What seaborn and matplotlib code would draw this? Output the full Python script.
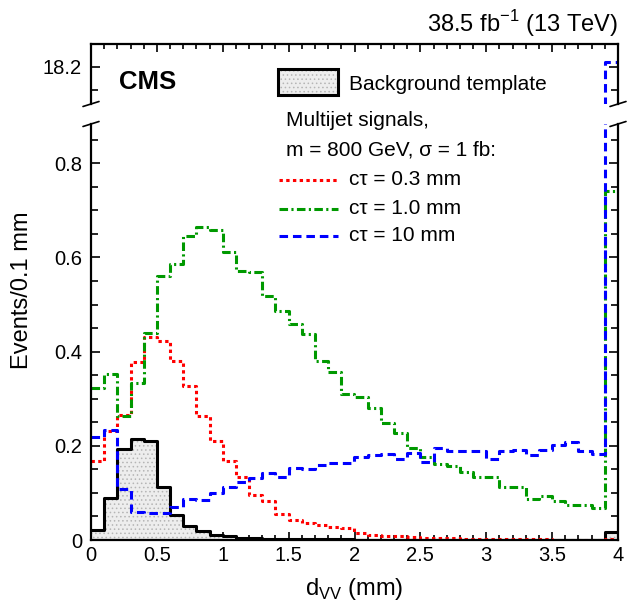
import numpy as np
import pandas as pd
import matplotlib
matplotlib.use("Agg")
import matplotlib.pyplot as plt
import matplotlib.ticker as ticker
from matplotlib.lines import Line2D
from matplotlib.patches import Rectangle
import seaborn as sns

# bin edges in d_VV (mm), 0.1 mm bins
edges = np.round(np.arange(0, 4.01, 0.1), 2)
centers = 0.5 * (edges[:-1] + edges[1:])

background = [0.021, 0.090, 0.193, 0.215, 0.210, 0.113, 0.053, 0.030, 0.019, 0.011,
              0.008, 0.005, 0.004, 0.003, 0.002, 0.002, 0.002, 0.002, 0.002, 0.002,
              0.001, 0.001, 0.001, 0.001, 0.001, 0.001, 0.001, 0.001, 0.001, 0.001,
              0.001, 0.001, 0.001, 0.001, 0.001, 0.001, 0.001, 0.001, 0.001, 0.018]
ctau_03 = [0.168, 0.231, 0.265, 0.377, 0.432, 0.422, 0.379, 0.326, 0.264, 0.210,
           0.168, 0.134, 0.096, 0.083, 0.056, 0.042, 0.037, 0.032, 0.027, 0.025,
           0.015, 0.011, 0.009, 0.008, 0.006, 0.005, 0.005, 0.004, 0.003, 0.003,
           0.003, 0.002, 0.002, 0.002, 0.002, 0.001, 0.001, 0.001, 0.001, 0.003]
ctau_10 = [0.322, 0.352, 0.263, 0.333, 0.439, 0.561, 0.587, 0.645, 0.665, 0.658,
           0.612, 0.571, 0.570, 0.519, 0.487, 0.458, 0.437, 0.379, 0.357, 0.311,
           0.304, 0.281, 0.249, 0.228, 0.196, 0.177, 0.161, 0.157, 0.145, 0.133,
           0.134, 0.113, 0.113, 0.087, 0.094, 0.083, 0.074, 0.074, 0.069, 0.741]
ctau_100 = [0.219, 0.234, 0.108, 0.060, 0.057, 0.057, 0.071, 0.086, 0.085, 0.100,
            0.113, 0.124, 0.131, 0.142, 0.134, 0.152, 0.151, 0.159, 0.164, 0.164,
            0.177, 0.180, 0.183, 0.173, 0.185, 0.166, 0.195, 0.188, 0.188, 0.190,
            0.173, 0.190, 0.191, 0.180, 0.191, 0.202, 0.209, 0.190, 0.183, 18.21]

signals = [
    ("c\u03c4 = 0.3 mm", ctau_03, "#ff0000", (0, (1.1, 1.1))),
    ("c\u03c4 = 1.0 mm", ctau_10, "#009900", (0, (2.8, 1.1, 0.7, 1.1))),
    ("c\u03c4 = 10 mm", ctau_100, "#0000ff", (0, (2.8, 1.6))),
]

sns.set_style("ticks")
plt.rcParams["font.family"] = ["Liberation Sans", "DejaVu Sans"]
plt.rcParams["hatch.linewidth"] = 0.6
for key in ("text.color", "axes.labelcolor", "axes.edgecolor", "xtick.color", "ytick.color"):
    plt.rcParams[key] = "black"

W, H = 631, 602
def fx(px):
    return px / W
def fy(py):
    return 1 - py / H

fig = plt.figure(figsize=(W / 100, H / 100), dpi=100)
ax_lo = fig.add_axes([fx(91), fy(540), fx(618) - fx(91), fy(124) - fy(540)])
ax_hi = fig.add_axes([fx(91), fy(104), fx(618) - fx(91), fy(44) - fy(104)], sharex=ax_lo)

LW = 2.2
bkg_df = pd.DataFrame({"dvv": centers, "w": background})
for ax in (ax_lo, ax_hi):
    sns.histplot(data=bkg_df, x="dvv", weights="w", bins=list(edges), element="step",
                 fill=True, color="#ededed", alpha=1, hatch="....", edgecolor="#b5b5b5",
                 linewidth=0, ax=ax)
    sns.histplot(data=bkg_df, x="dvv", weights="w", bins=list(edges), element="step",
                 fill=False, color="black", linewidth=LW, ax=ax)
    for label, vals, col, ls in signals:
        sig_df = pd.DataFrame({"dvv": centers, "w": vals})
        sns.histplot(data=sig_df, x="dvv", weights="w", bins=list(edges), element="step",
                     fill=False, color=col, linewidth=LW, linestyle=ls, ax=ax)
    ax.set_xlabel("")
    ax.set_ylabel("")
    ax.set_xlim(0, 4)
    for sp in ax.spines.values():
        sp.set_linewidth(1.6)
        sp.set_color("black")
        sp.set_visible(True)

ax_lo.set_ylim(0, 416 / 471)
ax_hi.set_ylim(18.2 - 37.3 / 471, 18.2 + 22.7 / 471)
ax_lo.spines["top"].set_visible(False)
ax_hi.spines["bottom"].set_visible(False)

ax_lo.xaxis.set_major_locator(ticker.MultipleLocator(0.5))
ax_lo.xaxis.set_minor_locator(ticker.MultipleLocator(0.1))
ax_lo.xaxis.set_major_formatter(ticker.FormatStrFormatter("%g"))
ax_lo.yaxis.set_major_locator(ticker.MultipleLocator(0.2))
ax_lo.yaxis.set_minor_locator(ticker.MultipleLocator(0.05))
ax_lo.yaxis.set_major_formatter(ticker.FormatStrFormatter("%g"))
ax_hi.set_yticks([18.2], labels=["18.2"])
ax_hi.yaxis.set_minor_locator(ticker.MultipleLocator(0.05))

ax_lo.tick_params(axis="both", which="both", direction="in", top=False, right=True,
                  labelsize=14.5, width=1.2, colors="black")
ax_lo.tick_params(axis="y", which="major", length=6.5, pad=6.5)
ax_lo.tick_params(axis="y", which="minor", length=5)
ax_lo.tick_params(axis="x", which="major", length=6, pad=4.5)
ax_lo.tick_params(axis="x", which="minor", length=3.5)
ax_hi.tick_params(axis="both", which="both", direction="in", top=True, bottom=False,
                  labelbottom=False, right=True, labelsize=14.5, width=1.2, colors="black")
ax_hi.tick_params(axis="y", which="major", length=6.5, pad=6.5)
ax_hi.tick_params(axis="y", which="minor", length=5)
ax_hi.tick_params(axis="x", which="major", length=6)
ax_hi.tick_params(axis="x", which="minor", length=3.5)

# axis break marks
for xpx in (91, 618):
    for ypx in (104, 124):
        fig.add_artist(Line2D([fx(xpx - 8), fx(xpx + 8)], [fy(ypx + 2.5), fy(ypx - 2.5)],
                              color="black", linewidth=1.2, transform=fig.transFigure))

# texts
fig.text(fx(618), fy(32), "38.5 fb$^\\mathregular{-1}$ (13 TeV)", ha="right", va="baseline",
         fontsize=17)
fig.text(fx(119), fy(89), "CMS", ha="left", va="baseline", fontsize=18.5, fontweight="bold")
fig.text(fx(22.5), fy(290), "Events/0.1 mm", rotation=90, ha="center", va="center",
         fontsize=17)
fig.text(fx(354.5), fy(595), "d$_\\mathregular{VV}$ (mm)", ha="center", va="baseline",
         fontsize=17)

# legend
fig.add_artist(Rectangle((fx(278), fy(95)), fx(338) - fx(278), fy(69) - fy(95),
                         facecolor="#ededed", hatch="....", edgecolor="#b5b5b5",
                         linewidth=0, transform=fig.transFigure))
fig.add_artist(Rectangle((fx(278), fy(95)), fx(338) - fx(278), fy(69) - fy(95),
                         facecolor="none", edgecolor="black", linewidth=LW,
                         transform=fig.transFigure))
fig.text(fx(349), fy(90), "Background template", va="baseline", fontsize=15)
fig.text(fx(286.5), fy(126.5), "Multijet signals,", va="baseline", fontsize=15)
fig.text(fx(286.5), fy(155.5), "m = 800 GeV, \u03c3 = 1 fb:", va="baseline", fontsize=15)
leg_y = [180, 208.5, 236]
for (label, vals, col, ls), ypx in zip(signals, leg_y):
    fig.add_artist(Line2D([fx(279), fx(338)], [fy(ypx), fy(ypx)], color=col,
                          linewidth=LW, linestyle=ls, transform=fig.transFigure))
    fig.text(fx(349), fy(ypx + 5), label, va="baseline", fontsize=15)

fig.savefig("out.png", dpi=100)
